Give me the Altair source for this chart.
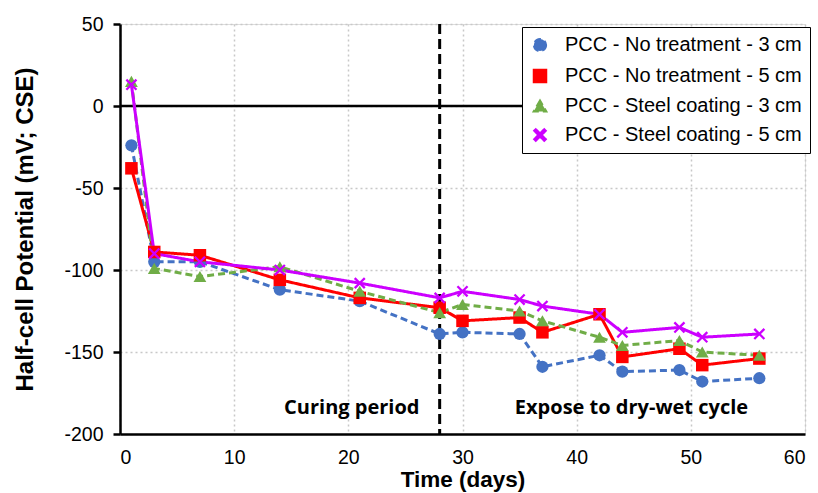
import altair as alt
import pandas as pd

days = [1, 3, 7, 14, 21, 28, 30, 35, 37, 42, 44, 49, 51, 56]
series_names = [
    "PCC - No treatment - 3 cm",
    "PCC - No treatment - 5 cm",
    "PCC - Steel coating - 3 cm",
    "PCC - Steel coating - 5 cm",
]
no_treat_3 = [-24, -95, -95, -112, -119, -139, -138, -139, -159, -152, -162, -161, -168, -166]
no_treat_5 = [-38, -89, -91, -106, -117, -123, -131, -129, -138, -127, -153, -148, -158, -154]
coat_3 = [15, -99, -104, -98, -113, -126, -121, -125, -131, -141, -146, -143, -150, -152]
coat_5 = [13, -90, -95, -100, -108, -117, -113, -118, -122, -127, -138, -135, -141, -139]

colors = ["#4472C4", "#FF0000", "#70AD47", "#CC00FF"]
dashes = [[7, 4], [1, 0], [7, 4], [1, 0]]
xshape = "M-0.9,-0.65L-0.65,-0.9L0,-0.25L0.65,-0.9L0.9,-0.65L0.25,0L0.9,0.65L0.65,0.9L0,0.25L-0.65,0.9L-0.9,0.65L-0.25,0Z"
shapes = ["circle", "square", "triangle-up", xshape]
sizes = [150, 170, 150, 150]

period_x = [28]
label_text = ["Curing period", "Expose to dry-wet cycle"]
label_x = [20.3, 44.8]
label_y = [-188, -188]

rows = []
for name, vals in zip(series_names, [no_treat_3, no_treat_5, coat_3, coat_5]):
    for d, v in zip(days, vals):
        rows.append({"day": d, "value": v, "series": name})
df = pd.DataFrame(rows)

xscale = alt.Scale(domain=[0, 60], nice=False)
yscale = alt.Scale(domain=[-200, 50], nice=False)

font = "Liberation Sans"
xenc = alt.X("day:Q", scale=xscale, title="Time (days)",
             axis=alt.Axis(values=[0, 10, 20, 30, 40, 50, 60], labelFontSize=19.5,
                           titleFontSize=22.5, titleFontWeight="bold", labelColor="black",
                           titleColor="black", domainColor="black", domainWidth=2.5,
                           ticks=False, labelPadding=14, titlePadding=2,
                           gridColor="#c8c8c8", gridDash=[2, 3], gridWidth=1.5,
                           labelFont=font, titleFont=font, labelExpr="'' + datum.value"))
yenc = alt.Y("value:Q", scale=yscale, title="Half-cell Potential (mV; CSE)",
             axis=alt.Axis(values=[-200, -150, -100, -50, 0, 50], labelFontSize=19.5,
                           titleFontSize=24, titleFontWeight="bold", labelColor="black",
                           titleColor="black", domainColor="black", domainWidth=2.5,
                           tickColor="black", tickSize=7, tickWidth=2.5, labelPadding=10,
                           titlePadding=26, gridColor="#c8c8c8", gridDash=[2, 3], gridWidth=1.5,
                           labelFont=font, titleFont=font, labelExpr="'' + datum.value"))

legend = alt.Legend(title=None, orient="none", legendX=402, legendY=3,
                    labelFontSize=20, labelFont=font, labelColor="black",
                    strokeColor="black", fillColor="white", padding=8, rowPadding=9,
                    symbolSize=150, labelLimit=400, symbolStrokeWidth=2, labelOffset=15)

color = alt.Color("series:N", scale=alt.Scale(domain=series_names, range=colors), legend=legend)

lines = alt.Chart(df).mark_line(strokeWidth=3).encode(
    x=xenc, y=yenc, color=color,
    strokeDash=alt.StrokeDash("series:N", scale=alt.Scale(domain=series_names, range=dashes), legend=None),
    detail="series:N",
)
points = alt.Chart(df).mark_point(filled=True, opacity=1).encode(
    x=xenc, y=yenc, color=color,
    shape=alt.Shape("series:N", scale=alt.Scale(domain=series_names, range=shapes), legend=legend),
    size=alt.Size("series:N", scale=alt.Scale(domain=series_names, range=sizes), legend=None),
)

zero = alt.Chart(pd.DataFrame({"v": [0]})).mark_rule(color="black", strokeWidth=2.5).encode(
    y=alt.Y("v:Q", scale=yscale))
vline = alt.Chart(pd.DataFrame({"d": period_x})).mark_rule(color="black", strokeWidth=3, strokeDash=[10, 5]).encode(
    x=alt.X("d:Q", scale=xscale))
labels = alt.Chart(pd.DataFrame({"t": label_text, "x": label_x, "y": label_y})).mark_text(
    fontSize=20, fontWeight="bold", font="Open Sans", color="black", baseline="alphabetic").encode(
    x=alt.X("x:Q", scale=xscale), y=alt.Y("y:Q", scale=yscale), text="t:N")

chart = alt.layer(zero, vline, lines, points, labels).properties(
    width=685, height=410,
    autosize=alt.AutoSizeParams(type="none"),
    padding={"left": 120, "top": 24, "right": 13, "bottom": 59},
).configure_view(stroke="black", strokeWidth=2.5).configure(background="white")

chart.save("out.html", embed_options={"renderer": "svg", "actions": False})
